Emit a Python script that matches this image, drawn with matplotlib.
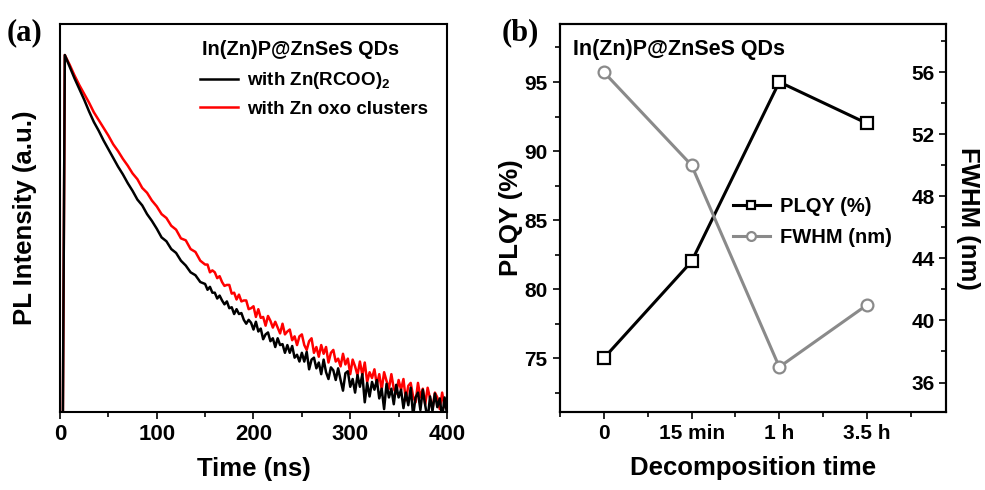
import numpy as np
import matplotlib.pyplot as plt
from matplotlib.ticker import MultipleLocator, FixedLocator, NullLocator

plt.rcParams['font.family'] = ['Liberation Sans', 'DejaVu Sans']
plt.rcParams['font.weight'] = 'bold'
plt.rcParams['axes.labelweight'] = 'bold'
plt.rcParams['axes.linewidth'] = 1.5
plt.rcParams['mathtext.fontset'] = 'custom'
plt.rcParams['mathtext.rm'] = 'Liberation Sans'
plt.rcParams['mathtext.bf'] = 'Liberation Sans:bold'
plt.rcParams['mathtext.default'] = 'bf'

# (a) PL decay traces, log10(counts)
# 5 ns steps up to 145 ns, then 2.5 ns steps where the trace gets noisy
decay_time = [3] + list(range(5, 150, 5)) + [150 + 2.5 * i for i in range(101)]
log_zn_rcoo = [0.00,
               3.68, 3.56, 3.44, 3.33, 3.22, 3.10, 2.99, 2.90, 2.80, 2.71,
               2.62, 2.53, 2.45, 2.36, 2.28, 2.19, 2.13, 2.04, 1.97, 1.89,
               1.80, 1.76, 1.68, 1.64, 1.56, 1.51, 1.44, 1.41, 1.34,
               1.32, 1.26, 1.29, 1.23, 1.23, 1.17, 1.20, 1.15, 1.11, 1.14,
               1.07, 1.08, 1.01, 1.06, 1.01, 1.02, 0.95, 0.91, 0.95, 0.92,
               0.85, 0.93, 0.83, 0.86, 0.75, 0.80, 0.82, 0.73, 0.76, 0.67,
               0.76, 0.69, 0.70, 0.61, 0.69, 0.61, 0.68, 0.56, 0.59, 0.52,
               0.61, 0.52, 0.62, 0.44, 0.54, 0.56, 0.45, 0.51, 0.39, 0.54,
               0.41, 0.34, 0.46, 0.43, 0.33, 0.45, 0.33, 0.22, 0.40, 0.42,
               0.26, 0.34, 0.20, 0.38, 0.26, 0.39, 0.10, 0.30, 0.16, 0.31,
               0.23, 0.33, 0.14, 0.24, 0.03, 0.29, 0.15, 0.24, 0.08, 0.28,
               0.15, 0.23, 0.04, 0.20, 0.07, 0.25, -0.04, 0.15, 0.20, 0.02,
               0.23, 0.07, -0.08, 0.16, 0.01, 0.19, 0.05, 0.14, -0.06, 0.15,
               -0.02]
log_zn_oxo = [0.00,
              3.68, 3.58, 3.47, 3.37, 3.28, 3.19, 3.09, 3.01, 2.93, 2.85,
              2.76, 2.69, 2.61, 2.54, 2.46, 2.40, 2.31, 2.26, 2.18, 2.12,
              2.04, 2.00, 1.92, 1.88, 1.79, 1.77, 1.68, 1.65, 1.56,
              1.52, 1.52, 1.44, 1.46, 1.44, 1.38, 1.40, 1.34, 1.30, 1.31,
              1.31, 1.22, 1.23, 1.16, 1.21, 1.14, 1.15, 1.15, 1.06, 1.07,
              1.09, 0.98, 1.06, 0.97, 0.98, 0.89, 0.99, 0.94, 0.87, 0.93,
              0.87, 0.81, 0.91, 0.80, 0.83, 0.85, 0.74, 0.78, 0.69, 0.78,
              0.80, 0.69, 0.64, 0.73, 0.76, 0.61, 0.67, 0.57, 0.69, 0.60,
              0.67, 0.51, 0.61, 0.64, 0.52, 0.55, 0.47, 0.60, 0.49, 0.55,
              0.39, 0.54, 0.47, 0.38, 0.52, 0.38, 0.51, 0.31, 0.41, 0.35,
              0.44, 0.28, 0.39, 0.23, 0.41, 0.32, 0.24, 0.39, 0.24, 0.19,
              0.33, 0.23, 0.34, 0.12, 0.27, 0.30, 0.16, 0.10, 0.30, 0.15,
              0.24, 0.08, 0.25, 0.14, 0.03, 0.20, 0.15, 0.03, 0.20, 0.05,
              0.09]

# (b) PLQY and FWHM vs decomposition time
decomp_labels = ['0', '15 min', '1 h', '3.5 h']
plqy = [75, 82, 95, 92]
fwhm = [56, 50, 37, 41]

gray = '#8a8a8a'

fig = plt.figure(figsize=(9.85, 4.9), dpi=100)

# ---- panel (a)
ax = fig.add_axes([0.0609, 0.1592, 0.3929, 0.7918])
ax.plot(decay_time, 10 ** np.array(log_zn_oxo), color='red', lw=1.8,
        label='with Zn oxo clusters')
ax.plot(decay_time, 10 ** np.array(log_zn_rcoo), color='black', lw=1.8,
        label='with Zn(RCOO)$_2$')
ax.set_yscale('log')
ax.set_ylim(1, 1e4)
ax.set_xlim(0, 400)
ax.yaxis.set_major_locator(NullLocator())
ax.yaxis.set_minor_locator(NullLocator())
ax.xaxis.set_major_locator(MultipleLocator(100))
ax.xaxis.set_minor_locator(MultipleLocator(50))
ax.tick_params(axis='x', which='major', direction='out', length=5, width=1.2,
               labelsize=16, pad=4, top=False)
ax.tick_params(axis='x', which='minor', direction='out', length=3.5, width=1.2,
               top=False)
ax.tick_params(axis='y', which='both', left=False, right=False)
ax.set_xlabel('Time (ns)', fontsize=18.5, labelpad=8)
ax.set_ylabel('PL Intensity (a.u.)', fontsize=18.5)
ax.yaxis.set_label_coords(-0.06, 0.5)

ax.text(0.367, 0.920, 'In(Zn)P@ZnSeS QDs', transform=ax.transAxes,
        fontsize=14.3, va='baseline', ha='left')
h, l = ax.get_legend_handles_labels()
ax.legend(h[::-1], l[::-1], loc='center left', bbox_to_anchor=(0.3618, 0.8196),
          frameon=False, fontsize=13.5, borderpad=0, borderaxespad=0,
          handlelength=2.0, handletextpad=0.5, labelspacing=0.5)

# ---- panel (b)
ax2 = fig.add_axes([0.5685, 0.1592, 0.3919, 0.7918])
x = np.arange(len(decomp_labels))
ax2.plot(x, plqy, '-s', color='black', mfc='white', ms=8, mew=1.6, lw=2.2,
         label='PLQY (%)', zorder=3)
ax3 = ax2.twinx()
ax3.plot(x, fwhm, '-o', color=gray, mfc='white', ms=8.5, mew=1.6, lw=2.2,
         label='FWHM (nm)')

ax2.set_xlim(-0.5, 3.9)
ax2.set_ylim(71.1, 99.2)
ax3.set_ylim(34.1, 59.1)
ax2.set_xticks(x)
ax2.set_xticklabels(decomp_labels)
ax2.xaxis.set_minor_locator(FixedLocator([-0.5, 0.5, 1.5, 2.5, 3.5]))
ax2.yaxis.set_major_locator(MultipleLocator(5))
ax2.yaxis.set_minor_locator(MultipleLocator(2.5))
ax3.yaxis.set_major_locator(MultipleLocator(4))
ax3.yaxis.set_minor_locator(MultipleLocator(2))

ax2.tick_params(axis='both', which='major', direction='out', length=5, width=1.2,
                labelsize=15, pad=4, top=False, right=False)
ax2.tick_params(axis='both', which='minor', direction='out', length=3.5, width=1.2,
                top=False, right=False)
ax3.tick_params(axis='y', which='major', direction='in', length=5, width=1.2,
                labelsize=15, pad=-8)
ax3.tick_params(axis='y', which='minor', direction='in', length=3.5, width=1.2)
for lab in ax3.get_yticklabels():
    lab.set_horizontalalignment('right')

ax2.set_xlabel('Decomposition time', fontsize=18.5, labelpad=9)
ax2.set_ylabel('PLQY (%)', fontsize=18.5)
ax2.yaxis.set_label_coords(-0.095, 0.5)
ax3.set_ylabel('FWHM (nm)', fontsize=18.5, rotation=270, va='bottom')
ax3.yaxis.set_label_coords(1.025, 0.5)

ax3.text(0.034, 0.920, 'In(Zn)P@ZnSeS QDs', transform=ax3.transAxes,
         fontsize=15.5, va='baseline', ha='left')
h2, l2 = ax2.get_legend_handles_labels()
h3, l3 = ax3.get_legend_handles_labels()
ax3.legend(h2 + h3, l2 + l3, loc='center left', bbox_to_anchor=(0.448, 0.4897),
           frameon=False, fontsize=14.5, borderpad=0, borderaxespad=0,
           handlelength=1.84, handletextpad=0.5, labelspacing=0.62,
           markerscale=0.75)

fig.text(0.007, 0.963, '(a)', family='Liberation Serif', fontsize=22,
         weight='bold', va='top', ha='left')
fig.text(0.509, 0.963, '(b)', family='Liberation Serif', fontsize=22,
         weight='bold', va='top', ha='left')

fig.savefig('out.png', dpi=100)
